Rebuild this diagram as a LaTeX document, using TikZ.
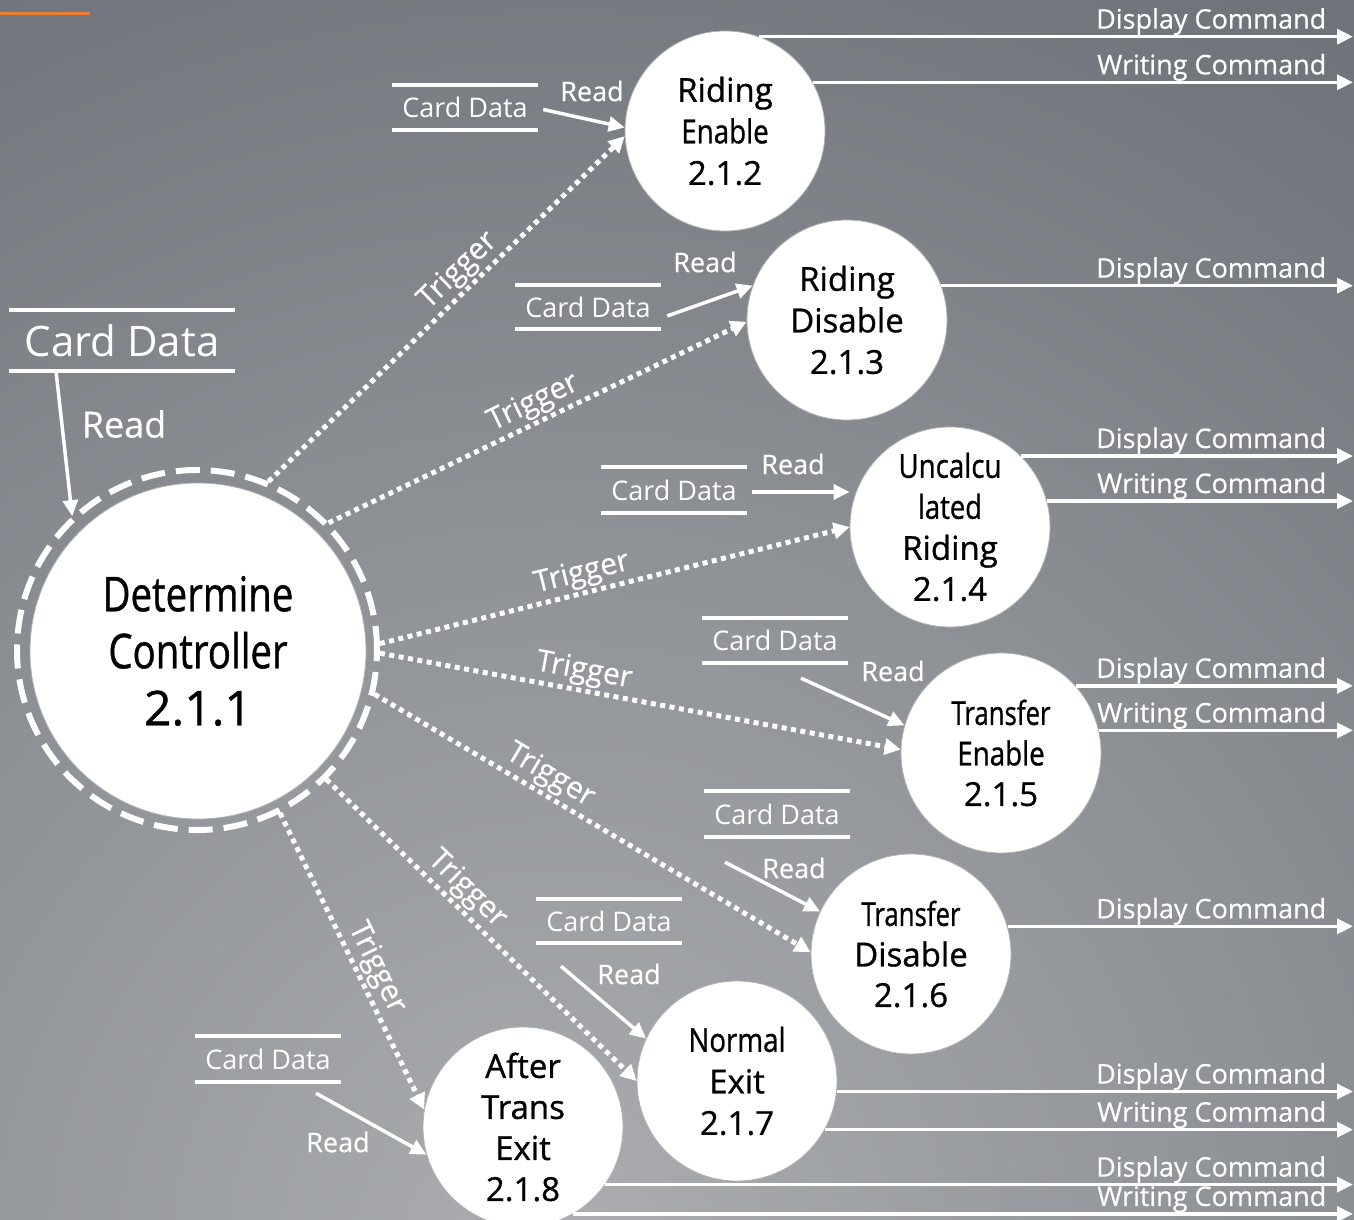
\documentclass[tikz,border=0pt]{standalone}
\usepackage{fontspec}
\setmainfont{Open Sans}
\newfontfamily\procfont{Open Sans}[FakeBold=0.9]
\newfontfamily\lblfont{Open Sans}[FakeBold=0.4]
\usepackage{graphicx}
\usetikzlibrary{arrows.meta,calc}

% background colours
\definecolor{bglight}{RGB}{172,174,177}
\definecolor{bgmid}{RGB}{142,145,150}
\definecolor{bgmid2}{RGB}{112,117,123}
\definecolor{bgdark}{RGB}{96,102,109}
\definecolor{bgtop}{RGB}{92,98,106}
\definecolor{accent}{RGB}{237,125,49}

\pgfdeclareradialshading{bgglow}{\pgfpoint{0bp}{0bp}}{%
  color(0bp)=(bglight); color(14bp)=(bgmid); color(27bp)=(bgmid2);
  color(38bp)=(bgdark); color(50bp)=(bgtop)}

\newcommand{\sqz}[2][0.82]{\scalebox{#1}[1]{#2}}

\begin{document}
\begin{tikzpicture}[x=1pt,y=-1pt,
  proc/.style={circle, fill=white, draw=black!30, line width=0.8pt,
    minimum size=200pt, inner sep=0pt, align=center, text=black,
    font=\procfont\fontsize{33}{41.5}\selectfont},
  store/.style={text=white, font=\fontsize{27}{32}\selectfont,
    minimum width=146pt, minimum height=45pt, inner sep=0pt},
  storeline/.style={white, line width=3.5pt},
  flow/.style={white, line width=3.5pt, -{Triangle[length=16pt,width=15pt]}},
  trig/.style={white, line width=5pt, dash pattern=on 5pt off 4.5pt,
    -{Triangle[length=16pt,width=16pt]}},
  lbl/.style={text=white, font=\lblfont\fontsize{27}{32}\selectfont, inner sep=0pt},
  trlbl/.style={text=white, font=\lblfont\fontsize{30}{34}\selectfont, sloped, above, inner sep=2pt},
  outlbl/.style={lbl, pos=1, anchor=base east, xshift=-25pt, yshift=8pt}
]
% canvas and background glow
\useasboundingbox (0,0) rectangle (1354,1220);
\begin{scope}
  \clip (0,0) rectangle (1354,1220);
  \shade[shading=bgglow] (-740,-40) rectangle (1860,2560);
\end{scope}
\draw[accent, line width=3pt] (0,14) -- (90,14);

\coordinate (rx) at (1353,0);

% processes
\node[proc, minimum size=336pt, font=\procfont\fontsize{48}{57}\selectfont] (ctrl) at (198,651)
  {\sqz[0.8]{Determine}\\\sqz[0.8]{Controller}\\2.1.1};
\node[circle, draw=white, line width=6pt, dash pattern=on 24pt off 11pt,
  minimum size=360pt, inner sep=0pt] (ring) at (197,650) {};

\node[proc] (p2) at (725,131) {Riding\\\sqz[0.84]{Enable}\\2.1.2};
\node[proc] (p3) at (847,320) {Riding\\Disable\\2.1.3};
\node[proc, font=\procfont\fontsize{33}{41}\selectfont] (p4) at (950,527)
  {\sqz[0.84]{Uncalcu}\\\sqz[0.83]{lated}\\Riding\\2.1.4};
\node[proc, font=\procfont\fontsize{33}{40.5}\selectfont] (p5) at (1001,753)
  {\sqz[0.78]{Transfer}\\\sqz[0.84]{Enable}\\2.1.5};
\node[proc, font=\procfont\fontsize{33}{40.5}\selectfont] (p6) at (911,954)
  {\sqz[0.78]{Transfer}\\Disable\\2.1.6};
\node[proc] (p7) at (737,1081) {\sqz[0.84]{Normal}\\Exit\\2.1.7};
\node[proc, font=\procfont\fontsize{33}{41}\selectfont] (p8) at (523,1127)
  {After\\Trans\\Exit\\2.1.8};

% data stores
\node[store, font=\fontsize{42}{48}\selectfont, minimum width=226pt, minimum height=61pt]
  (s1) at (122,340.5) {Card Data};
\node[store] (s2) at (465,107.5) {Card Data};
\node[store, minimum height=44pt] (s3) at (588,307) {Card Data};
\node[store, minimum height=46pt] (s4) at (674,490) {Card Data};
\node[store] (s5) at (775,640.5) {Card Data};
\node[store, minimum height=46pt] (s6) at (777,814) {Card Data};
\node[store, minimum height=44pt] (s7) at (609,921) {Card Data};
\node[store, minimum height=46pt] (s8) at (268,1059) {Card Data};
\foreach \s in {s1,s2,s3,s4,s5,s6,s7,s8}{
  \draw[storeline] (\s.north west) -- (\s.north east);
  \draw[storeline] (\s.south west) -- (\s.south east);
}

% reads from the stores
\draw[flow] ([xshift=-66pt]s1.south) -- (ring.133);
\draw[flow] ([xshift=5pt,yshift=-2pt]s2.east) -- (p2.178);
\draw[flow] ([xshift=6pt,yshift=-9pt]s3.east) -- (p3.160);
\draw[flow] ([xshift=5pt,yshift=-2pt]s4.east) -- ([yshift=-2pt]s4.east -| p4.west);
\draw[flow] ([xshift=26pt,yshift=-15pt]s5.south) -- (p5.164);
\draw[flow] ([xshift=-52pt,yshift=-25pt]s6.south) -- (p6.155);
\draw[flow] ([xshift=-48pt,yshift=-23pt]s7.south) -- (p7.155);
\draw[flow] ([xshift=48pt,yshift=-11pt]s8.south) -- (p8.196);

\node[lbl, font=\lblfont\fontsize{36}{40}\selectfont] (r1) at (124,424) {Read};
\node[lbl] (r2) at (592,91) {Read};
\node[lbl] (r3) at (705,262) {Read};
\node[lbl] (r4) at (793,464) {Read};
\node[lbl] (r5) at (893,671) {Read};
\node[lbl] (r6) at (794,868) {Read};
\node[lbl] (r7) at (629,974) {Read};
\node[lbl] (r8) at (338,1142) {Read};

% triggers from the controller
\draw[trig] (ring.67) -- (p2.183) node[trlbl, pos=0.57] {Trigger};
\draw[trig] (ring.44) -- (p3.181) node[trlbl, pos=0.51] {Trigger};
\draw[trig] (ring.2) -- (p4.180) node[trlbl, pos=0.44] {Trigger};
\draw[trig] (ring.-1) -- (p5.178) node[trlbl, pos=0.385] {Trigger};
\draw[trig] (ring.-14) -- (p6.179) node[trlbl, pos=0.38] {Trigger};
\draw[trig] (ring.-45) -- (p7.180) node[trlbl, pos=0.41] {Trigger};
\draw[trig] (ring.-63) -- (p8.170) node[trlbl, pos=0.55] {Trigger};

% commands sent out
\draw[flow] (p2.70) -- (p2.70 -| rx) node[outlbl] {Display Command};
\draw[flow] (p2.29) -- (p2.29 -| rx) node[outlbl] {Writing Command};
\draw[flow] (p3.20) -- (p3.20 -| rx) node[outlbl] {Display Command};
\draw[flow] (p4.45) -- (p4.45 -| rx) node[outlbl] {Display Command};
\draw[flow] (p4.15) -- (p4.15 -| rx) node[outlbl] {Writing Command};
\draw[flow] (p5.42) -- (p5.42 -| rx) node[outlbl] {Display Command};
\draw[flow] (p5.13) -- (p5.13 -| rx) node[outlbl] {Writing Command};
\draw[flow] (p6.16) -- (p6.16 -| rx) node[outlbl] {Display Command};
\draw[flow] (p7.-6) -- (p7.-6 -| rx) node[outlbl] {Display Command};
\draw[flow] (p7.-29) -- (p7.-29 -| rx) node[outlbl] {Writing Command};
\draw[flow] (p8.-35) -- (p8.-35 -| rx) node[outlbl] {Display Command};
\draw[flow] (p8.-60) -- (p8.-60 -| rx) node[outlbl] {Writing Command};
\end{tikzpicture}
\end{document}
